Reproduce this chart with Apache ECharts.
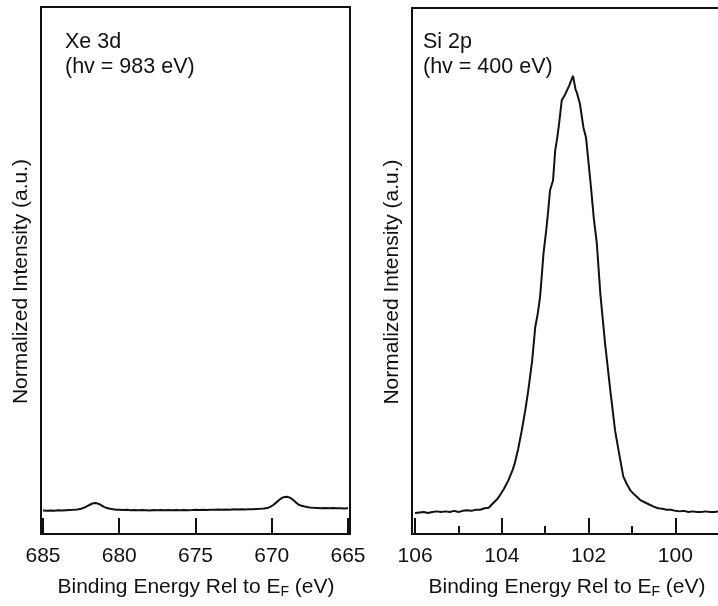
<!DOCTYPE html>
<html>
<head>
<meta charset="utf-8">
<script src="https://cdn.jsdelivr.net/npm/echarts@6/dist/echarts.min.js"></script>
<style>
html,body{margin:0;padding:0;background:#fff;}
#chart{width:718px;height:606px;}
</style>
</head>
<body>
<div id="chart"></div>
<script>
// ---- Data: Xe 3d (hv = 983 eV) ----
const xeEnergy = [685.0,684.75,684.5,684.25,684.0,683.75,683.5,683.25,683.0,682.75,682.5,682.3,682.1,681.9,681.75,681.6,681.45,681.3,681.15,681.0,680.8,680.6,680.4,680.2,680.0,679.75,679.5,679.25,679.0,678.75,678.5,678.25,678.0,677.75,677.5,677.25,677.0,676.75,676.5,676.25,676.0,675.75,675.5,675.25,675.0,674.75,674.5,674.25,674.0,673.75,673.5,673.25,673.0,672.75,672.5,672.25,672.0,671.75,671.5,671.25,671.0,670.75,670.5,670.3,670.1,669.9,669.7,669.5,669.3,669.15,669.0,668.85,668.7,668.55,668.4,668.25,668.1,667.9,667.7,667.5,667.25,667.0,666.75,666.5,666.25,666.0,665.75,665.5,665.25,665.0];
const xeIntensity = [0.0445,0.0440,0.0448,0.0442,0.0450,0.0446,0.0452,0.0455,0.0458,0.0465,0.0478,0.0500,0.0530,0.0560,0.0578,0.0588,0.0582,0.0565,0.0540,0.0515,0.0492,0.0478,0.0470,0.0462,0.0460,0.0455,0.0458,0.0452,0.0456,0.0450,0.0455,0.0452,0.0448,0.0455,0.0450,0.0454,0.0450,0.0456,0.0452,0.0455,0.0450,0.0457,0.0453,0.0456,0.0460,0.0455,0.0460,0.0457,0.0462,0.0458,0.0463,0.0460,0.0465,0.0462,0.0468,0.0465,0.0470,0.0467,0.0472,0.0470,0.0475,0.0478,0.0482,0.0492,0.0515,0.0550,0.0600,0.0650,0.0690,0.0702,0.0705,0.0695,0.0670,0.0635,0.0595,0.0560,0.0540,0.0525,0.0512,0.0505,0.0498,0.0495,0.0490,0.0493,0.0488,0.0492,0.0487,0.0490,0.0486,0.0489];

// ---- Data: Si 2p (hv = 400 eV) ----
const siEnergy = [106.0,105.9,105.8,105.7,105.6,105.5,105.4,105.3,105.2,105.1,105.0,104.9,104.8,104.7,104.6,104.5,104.4,104.3,104.22,104.12,104.04,103.95,103.85,103.75,103.7,103.62,103.54,103.46,103.39,103.3,103.23,103.17,103.12,103.08,103.04,102.98,102.93,102.89,102.82,102.77,102.72,102.68,102.62,102.54,102.45,102.36,102.3,102.27,102.2,102.12,102.06,101.96,101.88,101.81,101.73,101.62,101.5,101.39,101.31,101.2,101.12,101.04,100.92,100.81,100.65,100.5,100.4,100.3,100.2,100.1,100.0,99.9,99.8,99.7,99.6,99.5,99.4,99.3,99.2,99.1,99.0,98.9];
const siIntensity = [0.040,0.041,0.042,0.040,0.042,0.043,0.042,0.043,0.042,0.044,0.042,0.044,0.045,0.044,0.046,0.046,0.049,0.050,0.057,0.065,0.074,0.086,0.102,0.122,0.135,0.163,0.197,0.235,0.273,0.330,0.393,0.420,0.450,0.490,0.533,0.575,0.615,0.653,0.672,0.729,0.755,0.780,0.824,0.836,0.852,0.871,0.845,0.839,0.818,0.773,0.754,0.672,0.600,0.552,0.457,0.362,0.273,0.197,0.159,0.109,0.095,0.083,0.073,0.0645,0.058,0.052,0.049,0.048,0.046,0.046,0.044,0.043,0.044,0.042,0.043,0.042,0.042,0.043,0.042,0.042,0.043,0.042];

// ---- Tick labels ----
const xeTicks = [685, 680, 675, 670, 665];
const siMajorTicks = [106, 104, 102, 100];
const siMinorTicks = [105, 103, 101, 99];

const xeData = xeEnergy.map((e, i) => [e, xeIntensity[i]]);
const siData = siEnergy.map((e, i) => [e, siIntensity[i]]);

const FONT = '"Liberation Sans", Arial, sans-serif';
const FS = 21;
const ink = '#111';

const chart = echarts.init(document.getElementById('chart'), null, {renderer: 'canvas'});

const xTitleRich = {
  a: {fontFamily: FONT, fontSize: FS, fontWeight: 'normal', color: ink},
  sub: {fontFamily: FONT, fontSize: 14, fontWeight: 'normal', color: ink, verticalAlign: 'bottom', padding: [10, 0, 0, 0]}
};
const xTitleText = '{a|Binding Energy Rel to E}{sub|F}{a| (eV)}';

function yAxisCfg(gi) {
  return {
    type: 'value', gridIndex: gi, min: 0, max: 1,
    name: 'Normalized Intensity (a.u.)', nameLocation: 'middle', nameGap: 9,
    nameTextStyle: {fontFamily: FONT, fontSize: FS, color: ink, padding: [0, 22, 0, 0]},
    axisLine: {show: true, lineStyle: {color: ink, width: 2}},
    axisTick: {show: false}, axisLabel: {show: false}, splitLine: {show: false}
  };
}

const annoStyle = {fontFamily: FONT, fontSize: 21.5, fontWeight: 'normal', color: ink, lineHeight: 24.5};

const option = {
  animation: false,
  backgroundColor: '#fff',
  title: [
    {text: 'Xe 3d\n(hv = 983 eV)', left: 65, top: 30, padding: 0, textStyle: annoStyle},
    {text: 'Si 2p\n(hv = 400 eV)', left: 423, top: 30, padding: 0, textStyle: annoStyle},
    {text: xTitleText, left: 196, top: 575, textAlign: 'center', padding: 0,
     textStyle: {fontWeight: 'normal', rich: xTitleRich}},
    {text: xTitleText, left: 567, top: 575, textAlign: 'center', padding: 0,
     textStyle: {fontWeight: 'normal', rich: xTitleRich}}
  ],
  grid: [
    {left: 41, top: 7, width: 309, height: 527, show: true, borderColor: ink, borderWidth: 2,
     containLabel: false, outerBoundsMode: 'none'},
    {left: 412, top: 8, width: 348, height: 526, show: true, borderColor: ink, borderWidth: 2,
     containLabel: false, outerBoundsMode: 'none'}
  ],
  xAxis: [
    {
      type: 'value', gridIndex: 0, inverse: true, min: 664.87, max: 685.13,
      axisLine: {show: true, lineStyle: {color: ink, width: 2}},
      axisTick: {show: true, inside: true, length: 16, customValues: xeTicks, lineStyle: {color: ink, width: 2}},
      axisLabel: {show: true, customValues: xeTicks, margin: 12, fontFamily: FONT, fontSize: FS, color: ink},
      splitLine: {show: false}
    },
    {
      type: 'value', gridIndex: 1, inverse: true, min: 98.05, max: 106.07,
      axisLine: {show: true, lineStyle: {color: ink, width: 2}},
      axisTick: {show: true, inside: true, length: 16, customValues: siMajorTicks, lineStyle: {color: ink, width: 2}},
      axisLabel: {show: true, customValues: siMajorTicks, margin: 12, fontFamily: FONT, fontSize: FS, color: ink},
      splitLine: {show: false}
    },
    {
      type: 'value', gridIndex: 1, inverse: true, min: 98.05, max: 106.07, position: 'bottom',
      axisLine: {show: false},
      axisTick: {show: true, inside: true, length: 8, customValues: siMinorTicks, lineStyle: {color: ink, width: 2}},
      axisLabel: {show: false, customValues: siMinorTicks},
      splitLine: {show: false}
    }
  ],
  yAxis: [yAxisCfg(0), yAxisCfg(1)],
  series: [
    {type: 'line', xAxisIndex: 0, yAxisIndex: 0, data: xeData, showSymbol: false, symbol: 'none',
     lineStyle: {color: ink, width: 2}, silent: true},
    {type: 'line', xAxisIndex: 1, yAxisIndex: 1, data: siData, showSymbol: false, symbol: 'none',
     lineStyle: {color: ink, width: 2}, silent: true}
  ]
};
chart.setOption(option);
</script>
</body>
</html>
